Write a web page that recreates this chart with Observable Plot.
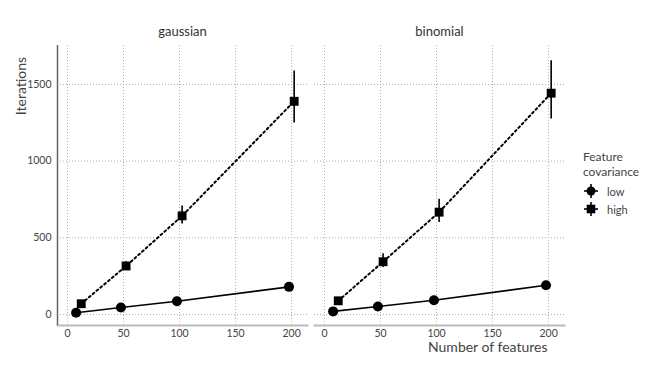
<!DOCTYPE html>
<html><head><meta charset="utf-8">
<script src="https://cdn.jsdelivr.net/npm/d3@7"></script>
<script src="https://cdn.jsdelivr.net/npm/@observablehq/plot@0.6"></script>
<style>
body{margin:0;background:#fff;font-family:Lato,"Noto Sans",sans-serif;}
#wrap{position:relative;width:664px;height:369px;overflow:hidden;}
.ttl{position:absolute;color:#444;white-space:nowrap;}
#ylab{left:20px;top:86px;font-size:14px;transform:translate(-50%,-50%) rotate(-90deg);}
#xlab{left:428px;top:338px;font-size:14px;}
#legend{position:absolute;left:583px;top:149px;color:#444;}
#legend .t{font-size:12px;line-height:15px;margin-bottom:3px;}
#legend .row{display:flex;align-items:center;height:18px;font-size:11px;}
#legend svg{margin-right:8px;}
</style></head><body><div id="wrap"></div><script>
// ---- data ----
const families = ["gaussian", "binomial"];
const features = [10, 50, 100, 200];
const covariances = ["low", "high"];
const gaussianLow    = [11, 45, 86, 180];
const gaussianLowLo  = [8, 40, 80, 170];
const gaussianLowHi  = [14, 50, 92, 190];
const gaussianHigh   = [70, 316, 643, 1390];
const gaussianHighLo = [58, 290, 590, 1248];
const gaussianHighHi = [82, 345, 707, 1588];
const binomialLow    = [20, 52, 93, 190];
const binomialLowLo  = [16, 46, 86, 180];
const binomialLowHi  = [24, 58, 100, 200];
const binomialHigh   = [89, 344, 667, 1443];
const binomialHighLo = [76, 307, 599, 1274];
const binomialHighHi = [102, 396, 751, 1655];
const xTicks = [0, 50, 100, 150, 200];
const yTicks = [0, 500, 1000, 1500];
const dodge = {low: -2.3, high: 2.3};

const series = {
  gaussian: {low: [gaussianLow, gaussianLowLo, gaussianLowHi], high: [gaussianHigh, gaussianHighLo, gaussianHighHi]},
  binomial: {low: [binomialLow, binomialLowLo, binomialLowHi], high: [binomialHigh, binomialHighLo, binomialHighHi]}
};
const rows = [];
for (const f of families) for (const c of covariances) {
  const [v, lo, hi] = series[f][c];
  features.forEach((n, i) => rows.push({family: f, cov: c, n, xd: n + dodge[c], y: v[i], lo: lo[i], hi: hi[i]}));
}
const low = rows.filter(d => d.cov === "low");
const high = rows.filter(d => d.cov === "high");
const xDomain = [-8.9, 214.2];
const yDomain = [-72, 1754];

const chart = Plot.plot({
  width: 664, height: 369,
  marginLeft: 57, marginRight: 99, marginTop: 45, marginBottom: 44,
  style: {fontFamily: "Lato, 'Noto Sans', sans-serif", background: "#fff"},
  fx: {domain: families, paddingInner: 0.027, paddingOuter: 0, label: null},
  x: {domain: xDomain},
  y: {domain: yDomain},
  marks: [
    Plot.gridX({ticks: xTicks, stroke: "#999", strokeOpacity: 1, strokeDasharray: "1,2", strokeWidth: 0.8}),
    Plot.gridY({ticks: yTicks, stroke: "#999", strokeOpacity: 1, strokeDasharray: "1,2", strokeWidth: 0.8}),
    Plot.frame({anchor: "bottom", stroke: "#bbb", strokeWidth: 2}),
    Plot.ruleX(["gaussian"], {fx: d => d, x: xDomain[0], stroke: "#666", strokeWidth: 1.5}),
    Plot.axisFx({anchor: "top", tickSize: 0, tickPadding: 10, fontSize: 13, label: null, color: "#333"}),
    Plot.axisX({ticks: xTicks, tickSize: 0, tickPadding: 4, fontSize: 10.5, label: null, color: "#444", tickFormat: d3.format("d")}),
    Plot.axisY({ticks: yTicks, tickSize: 0, tickPadding: 6, fontSize: 10.5, label: null, color: "#444", tickFormat: d3.format("d")}),
    Plot.line(low, {x: "xd", y: "y", fx: "family", stroke: "black", strokeWidth: 1.6}),
    Plot.line(high, {x: "xd", y: "y", fx: "family", stroke: "black", strokeWidth: 2, strokeDasharray: "2,3"}),
    Plot.ruleX(rows, {x: "xd", y1: "lo", y2: "hi", fx: "family", stroke: "black", strokeWidth: 1.6}),
    Plot.dot(low, {x: "xd", y: "y", fx: "family", symbol: "circle", r: 5, fill: "black"}),
    Plot.dot(high, {x: "xd", y: "y", fx: "family", symbol: "square", r: 5, fill: "black"})
  ]
});
const wrap = document.getElementById("wrap");
wrap.appendChild(chart);

const ylab = document.createElement("div");
ylab.className = "ttl"; ylab.id = "ylab"; ylab.textContent = "Iterations";
wrap.appendChild(ylab);
const xlab = document.createElement("div");
xlab.className = "ttl"; xlab.id = "xlab"; xlab.textContent = "Number of features";
wrap.appendChild(xlab);

const legend = document.createElement("div");
legend.id = "legend";
legend.innerHTML = `<div class="t">Feature<br>covariance</div>` + covariances.map(c => `
  <div class="row"><svg width="16" height="16" viewBox="-8 -8 16 16">
    <line x1="-7" x2="7" y1="0" y2="0" stroke="black" stroke-width="1.6"/>
    <line x1="0" x2="0" y1="-7" y2="7" stroke="black" stroke-width="1.6"/>
    ${c === "low" ? `<circle r="4.5" fill="black"/>` : `<rect x="-4.3" y="-4.3" width="8.6" height="8.6" fill="black"/>`}
  </svg><span>${c}</span></div>`).join("");
wrap.appendChild(legend);
</script></body></html>
